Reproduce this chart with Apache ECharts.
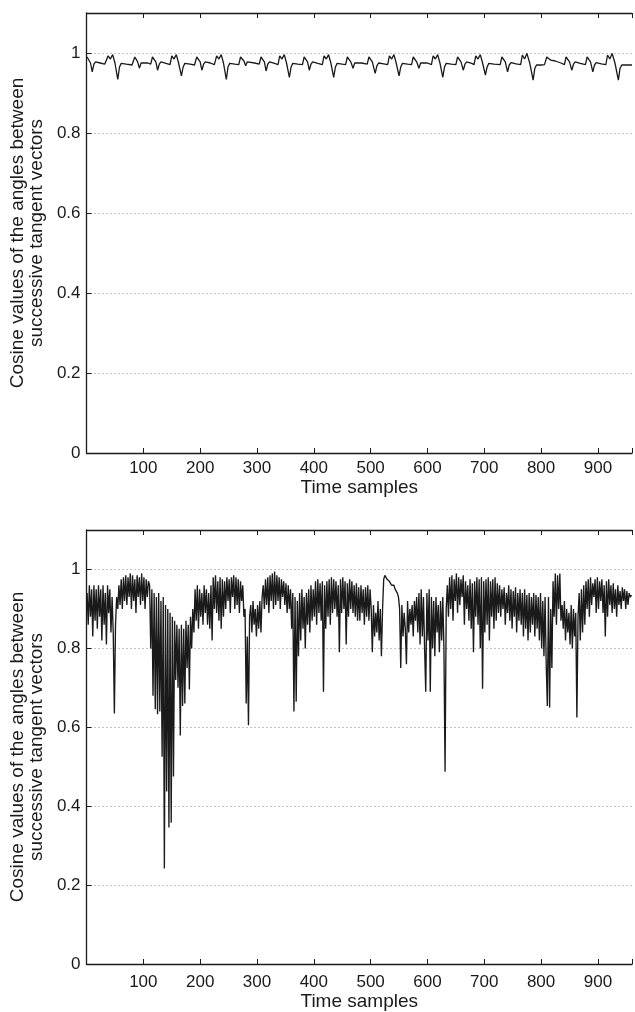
<!DOCTYPE html>
<html>
<head>
<meta charset="utf-8">
<script src="https://cdn.jsdelivr.net/npm/echarts/dist/echarts.min.js"></script>
<style>
html,body{margin:0;padding:0;background:#fff;}
#chart{width:635px;height:1012px;}
</style>
</head>
<body>
<div id="chart"></div>
<script>
// ---------- data ----------
const xTickLabels = ['100','200','300','400','500','600','700','800','900'];
const yTickLabels = ['0','0.2','0.4','0.6','0.8','1'];
const xAxisTitle = 'Time samples';
const yAxisTitle = 'Cosine values of the angles between\nsuccessive tangent vectors';

// Top panel: [time sample, cosine value]
const topSeries = [
[1,0.99],[4,0.988],[7,0.975],[10,0.953],[13,0.972],[16,0.978],[24,0.975],[32,0.972],
[35,0.972],[38,0.993],[42,0.985],[46,0.996],[50,0.975],[55,0.934],[58,0.965],[61,0.974],[70,0.972],[80,0.970],
[82,0.971],[85,0.99],[87,0.995],[90,0.978],[93,0.962],[96,0.975],[99,0.98],[108,0.975],
[113,0.972],[116,0.99],[119,0.995],[122,0.978],[125,0.957],[128,0.972],[131,0.978],[140,0.974],
[147,0.971],[150,0.993],[154,0.985],[158,0.996],[162,0.975],[167,0.943],[170,0.965],[173,0.974],[182,0.972],[190,0.970],
[191,0.971],[194,0.99],[197,0.995],[200,0.978],[203,0.957],[206,0.972],[209,0.978],[218,0.975],
[225,0.971],[229,0.993],[233,0.985],[237,0.996],[241,0.975],[246,0.934],[249,0.965],[252,0.974],[261,0.972],
[268,0.971],[271,0.99],[274,0.995],[277,0.98],[280,0.968],[283,0.978],[286,0.982],[296,0.975],
[304,0.972],[307,0.99],[310,0.995],[313,0.978],[316,0.955],[319,0.972],[322,0.978],[331,0.974],
[337,0.971],[340,0.993],[344,0.985],[348,0.996],[352,0.975],[357,0.939],[360,0.965],[363,0.974],[372,0.972],
[380,0.971],[383,0.99],[386,0.995],[389,0.978],[392,0.957],[395,0.972],[398,0.978],[407,0.974],
[415,0.971],[418,0.993],[422,0.985],[426,0.996],[430,0.975],[435,0.939],[438,0.965],[441,0.974],[450,0.972],
[456,0.971],[459,0.99],[462,0.995],[465,0.978],[469,0.962],[472,0.975],[475,0.98],[484,0.975],
[494,0.972],[497,0.99],[500,0.995],[503,0.978],[508,0.949],[511,0.968],[514,0.975],[523,0.973],
[530,0.971],[533,0.993],[537,0.985],[541,0.996],[545,0.975],[550,0.943],[553,0.965],[556,0.974],[565,0.972],
[572,0.971],[575,0.99],[578,0.995],[581,0.978],[585,0.962],[588,0.975],[591,0.98],[600,0.975],
[607,0.971],[610,0.993],[614,0.985],[618,0.996],[622,0.975],[627,0.939],[630,0.965],[633,0.974],[642,0.972],
[650,0.971],[653,0.99],[656,0.995],[659,0.978],[663,0.957],[666,0.972],[669,0.978],[678,0.974],
[682,0.971],[685,0.993],[689,0.985],[693,0.996],[697,0.975],[702,0.945],[705,0.965],[708,0.974],[717,0.972],
[728,0.971],[731,0.99],[734,0.995],[737,0.978],[741,0.953],[744,0.97],[747,0.976],[756,0.973],
[764,0.971],[767,0.995],[771,0.985],[775,0.999],[780,0.975],[786,0.932],[789,0.962],[792,0.97],[801,0.97],
[806,0.971],[810,0.99],[813,0.995],[817,0.982],[825,0.98],[835,0.975],
[841,0.971],[844,0.99],[847,0.995],[850,0.978],[854,0.957],[857,0.972],[860,0.978],[869,0.974],
[878,0.971],[881,0.99],[884,0.995],[887,0.978],[891,0.953],[894,0.97],[897,0.976],[906,0.973],
[914,0.971],[917,0.995],[921,0.985],[925,0.999],[930,0.975],[936,0.932],[939,0.962],[942,0.97],[950,0.97],[960,0.97]
];

// Bottom panel: rows of consecutive readings, every 2nd time sample, starting at the given sample
const bottomRowStart = [1,47,61,111,191,223,279,289,311,361,401,431,481,501,521,551,583,635,691,727,809,823,837,865,879,925];
const bottomRowValues = [
[0.94,0.86,0.96,0.88,0.95,0.83,0.96,0.87,0.95,0.85,0.96,0.88,0.95,0.82,0.96,0.86,0.94,0.81,0.96,0.89,0.95,0.84,0.93],
[0.84,0.635,0.86,0.93,0.90,0.96,0.91],
[0.975,0.9,0.98,0.92,0.985,0.91,0.98,0.93,0.99,0.9,0.985,0.92,0.975,0.89,0.985,0.93,0.98,0.91,0.99,0.92,0.98,0.9,0.975,0.93,0.97],
[0.96,0.80,0.95,0.68,0.94,0.646,0.93,0.633,0.94,0.64,0.92,0.525,0.93,0.242,0.91,0.4375,0.90,0.346,0.89,0.358,0.88,0.475,0.87,0.72,0.86,0.70,0.85,0.579,0.86,0.654,0.85,0.66,0.87,0.75,0.86,0.696,0.88,0.80,0.90,0.84],
[0.95,0.87,0.96,0.85,0.95,0.88,0.94,0.86,0.96,0.89,0.95,0.86,0.94,0.85,0.96,0.82],
[0.98,0.90,0.985,0.89,0.97,0.87,0.98,0.85,0.975,0.88,0.97,0.90,0.98,0.92,0.975,0.89,0.98,0.93,0.985,0.90,0.98,0.91,0.975,0.89,0.97,0.92,0.96,0.88],
[0.90,0.66,0.83,0.605,0.88],
[0.91,0.84,0.92,0.86,0.90,0.83,0.91,0.85,0.92,0.84,0.93],
[0.96,0.90,0.975,0.91,0.98,0.89,0.985,0.92,0.99,0.90,0.995,0.91,0.985,0.92,0.98,0.90,0.975,0.93,0.97,0.91,0.965,0.89,0.96,0.90,0.95],
[0.85,0.94,0.64,0.93,0.665,0.92,0.78,0.94,0.82,0.95,0.85,0.93,0.80,0.94,0.86,0.95,0.84,0.96,0.87,0.95],
[0.88,0.97,0.86,0.975,0.89,0.965,0.87,0.97,0.69,0.96,0.85,0.97,0.88,0.975,0.86],
[0.98,0.89,0.975,0.90,0.97,0.88,0.96,0.79,0.975,0.89,0.98,0.90,0.97,0.81,0.965,0.88,0.975,0.90,0.97,0.89,0.96,0.88,0.965,0.87,0.955],
[0.87,0.96,0.89,0.95,0.86,0.955,0.88,0.96,0.87,0.95],
[0.90,0.79,0.91,0.83,0.89,0.84,0.92,0.82,0.90,0.78],
[0.90,0.975,0.985,0.98,0.975,0.97,0.97,0.965,0.96,0.955,0.96,0.95,0.955,0.94,0.93],
[0.90,0.75,0.91,0.83,0.89,0.85,0.76,0.92,0.84,0.90,0.86,0.91,0.83,0.92,0.87,0.93],
[0.84,0.94,0.81,0.95,0.83,0.93,0.80,0.69,0.94,0.82,0.95,0.69,0.93,0.80,0.92,0.78,0.93,0.84,0.91,0.79,0.92,0.82,0.93,0.80,0.4875,0.90],
[0.96,0.88,0.98,0.90,0.985,0.87,0.975,0.92,0.99,0.89,0.98,0.91,0.975,0.93,0.985,0.86,0.97,0.90,0.96,0.87,0.975,0.85,0.965,0.79,0.97,0.88,0.98,0.86],
[0.975,0.80,0.98,0.6975,0.97,0.84,0.975,0.86,0.98,0.82,0.97,0.88,0.975,0.85,0.98,0.87,0.965,0.89],
[0.96,0.88,0.95,0.90,0.955,0.86,0.94,0.89,0.96,0.87,0.95,0.85,0.945,0.88,0.955,0.84,0.94,0.87,0.95,0.86,0.94,0.83,0.95,0.85,0.935,0.82,0.94,0.84,0.93,0.86,0.94,0.83,0.935,0.85,0.93,0.82,0.94,0.80,0.92,0.78,0.93],
[0.76,0.654,0.93,0.65,0.90,0.75,0.97],
[0.88,0.99,0.86,0.985,0.90,0.99,0.87],
[0.91,0.85,0.92,0.82,0.90,0.84,0.89,0.81,0.91,0.80,0.90,0.83,0.89,0.625],
[0.88,0.94,0.82,0.95,0.84,0.96,0.86],
[0.97,0.90,0.975,0.88,0.98,0.91,0.965,0.93,0.975,0.89,0.98,0.90,0.97,0.92,0.975,0.89,0.96,0.83,0.97,0.88,0.975,0.91,0.96],
[0.89,0.965,0.90,0.95,0.88,0.96,0.91,0.945,0.90,0.955,0.92,0.95,0.90,0.945,0.91,0.94,0.93,0.935]
];

// ---------- build ----------
const bottomSeries = [];
bottomRowStart.forEach((s, r) => {
  bottomRowValues[r].forEach((v, i) => bottomSeries.push([s + 2 * i, v]));
});

const FONT = 'Liberation Sans, Arial, Helvetica, sans-serif';
const INK = '#1a1a1a';

function xAxes(gi, labelMargin, nameGap) {
  const base = {
    gridIndex: gi, type: 'value', min: 0, max: 960, interval: 100,
    axisLine: {show: true, onZero: false, lineStyle: {color: INK, width: 1.3}},
    axisTick: {show: true, inside: true, length: 5, lineStyle: {color: INK, width: 1}},
    splitLine: {show: false}
  };
  return [
    Object.assign({}, base, {
      position: 'bottom',
      axisLabel: {
        show: true, color: INK, fontFamily: FONT, fontSize: 17, margin: labelMargin,
        formatter: v => { const s = String(v); return xTickLabels.indexOf(s) >= 0 ? s : ''; }
      },
      name: xAxisTitle, nameLocation: 'middle', nameGap: nameGap,
      nameTextStyle: {color: INK, fontFamily: FONT, fontSize: 19}
    }),
    Object.assign({}, base, {position: 'top', axisLabel: {show: false}})
  ];
}

function yAxis(gi) {
  return {
    gridIndex: gi, type: 'value', min: 0, max: 1.1, interval: 0.2,
    axisLine: {show: true, onZero: false, lineStyle: {color: INK, width: 1.3}},
    axisTick: {show: true, inside: true, length: 5, lineStyle: {color: INK, width: 1}},
    axisLabel: {
      show: true, color: INK, fontFamily: FONT, fontSize: 17, margin: 6,
      formatter: v => { const s = String(+v.toFixed(2)); return yTickLabels.indexOf(s) >= 0 ? s : ''; }
    },
    splitLine: {show: true, lineStyle: {color: '#8a8a8a', width: 1, type: [1, 3]}},
    name: yAxisTitle, nameLocation: 'middle', nameRotate: 90, nameGap: 34,
    nameTextStyle: {color: INK, fontFamily: FONT, fontSize: 19, lineHeight: 19, align: 'center'}
  };
}

const chart = echarts.init(document.getElementById('chart'), null, {renderer: 'canvas'});
chart.setOption({
  animation: false,
  backgroundColor: '#ffffff',
  grid: [
    {left: 86, top: 13, width: 552, height: 440},
    {left: 86, top: 530, width: 552, height: 440}
  ],
  xAxis: [].concat(xAxes(0, 7, 25), xAxes(1, 10, 28)),
  yAxis: [yAxis(0), yAxis(1)],
  series: [
    {type: 'line', xAxisIndex: 0, yAxisIndex: 0, data: topSeries, showSymbol: false,
     lineStyle: {color: INK, width: 1.3}, silent: true},
    {type: 'line', xAxisIndex: 2, yAxisIndex: 1, data: bottomSeries, showSymbol: false,
     lineStyle: {color: INK, width: 1.35}, sampling: null, silent: true}
  ]
});
</script>
</body>
</html>
